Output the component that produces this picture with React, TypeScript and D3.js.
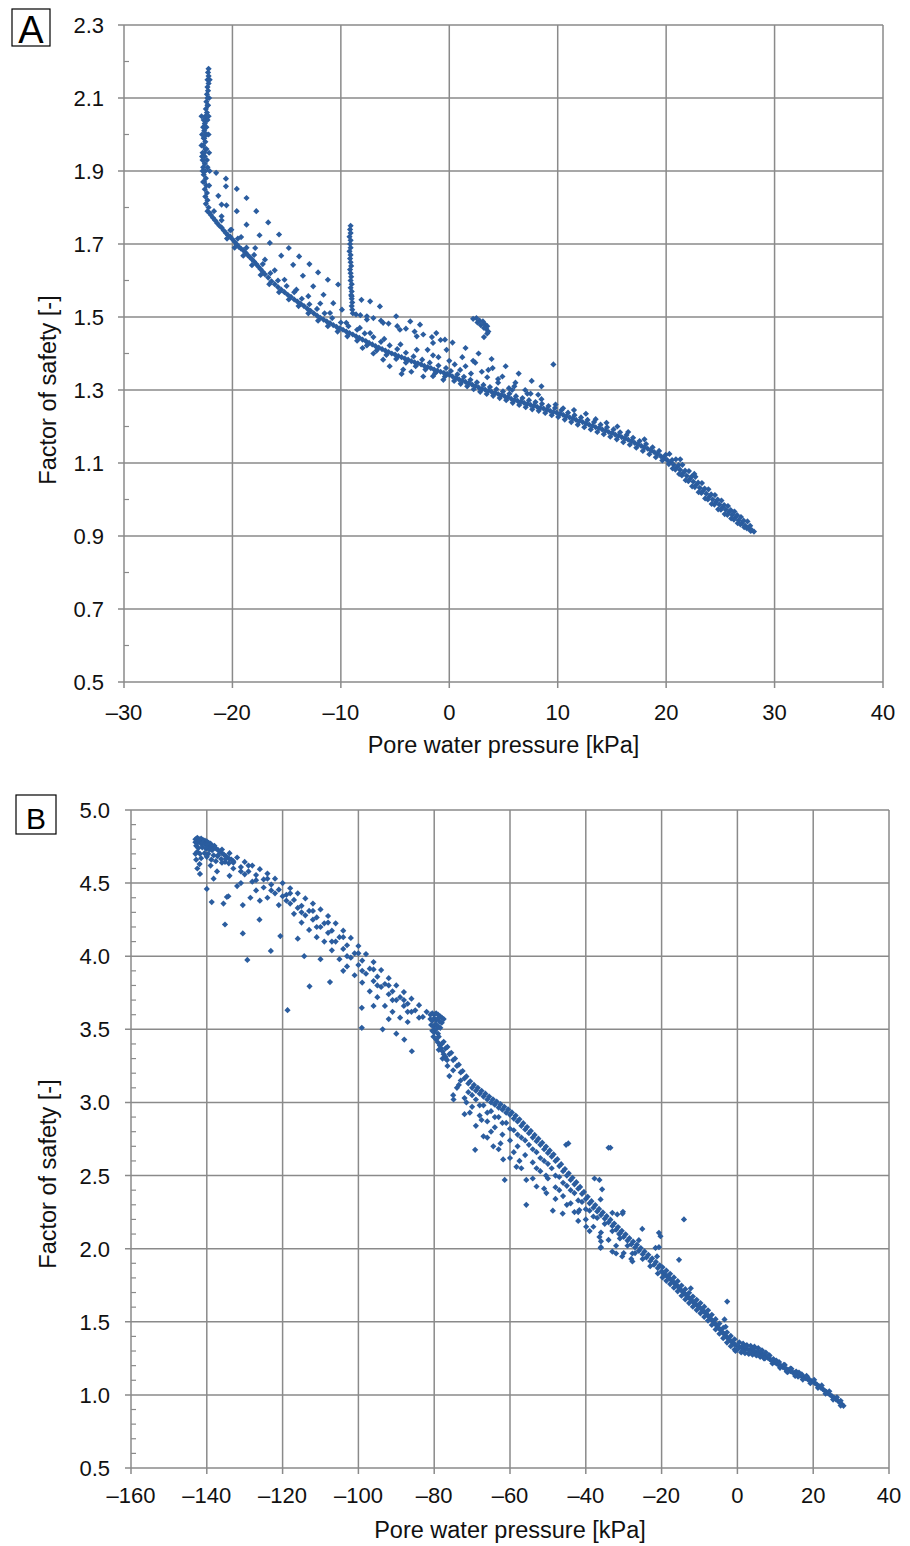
import React from "react";
import * as d3 from "d3";

type P = [number, number];

// ---------- Panel A data (pore water pressure kPa, factor of safety) ----------
const aXTicks = [-30, -20, -10, 0, 10, 20, 30, 40];
const aYTicks = [0.5, 0.7, 0.9, 1.1, 1.3, 1.5, 1.7, 1.9, 2.1, 2.3];
const aYMinor = [0.6, 0.8, 1.0, 1.2, 1.4, 1.6, 1.8, 2.0, 2.2];

const aVertical: P[] = [
  [-22.2, 2.18], [-22.25, 2.17], [-22.2, 2.16], [-22.3, 2.15], [-22.2, 2.14], [-22.3, 2.13], [-22.25, 2.12],
  [-22.35, 2.11], [-22.3, 2.1], [-22.4, 2.09], [-22.3, 2.08], [-22.45, 2.07], [-22.35, 2.06], [-22.5, 2.05],
  [-22.4, 2.04], [-22.55, 2.03], [-22.4, 2.02], [-22.6, 2.01], [-22.45, 2.0], [-22.65, 1.99], [-22.5, 1.98],
  [-22.7, 1.97], [-22.5, 1.96], [-22.75, 1.95], [-22.55, 1.94], [-22.75, 1.93], [-22.55, 1.92], [-22.35, 1.93],
  [-22.7, 1.91], [-22.5, 1.9], [-22.3, 1.91], [-22.65, 1.89], [-22.45, 1.88], [-22.6, 1.87], [-22.4, 1.86],
  [-22.55, 1.85], [-22.35, 1.84], [-22.5, 1.83], [-22.3, 1.82], [-22.45, 1.81], [-22.2, 1.8], [-22.3, 1.79],
  [-22.1, 1.785], [-22.35, 2.0], [-22.4, 1.96], [-22.3, 2.04], [-22.25, 2.08], [-22.6, 1.95], [-22.6, 1.99],
  [-22.5, 2.02],
  [-22.85, 2.05], [-22.8, 2.0], [-22.85, 1.97], [-22.8, 1.94], [-22.75, 1.9], [-22.7, 1.87], [-22.2, 2.05],
  [-22.15, 2.1], [-22.2, 2.0], [-22.15, 1.95], [-22.1, 1.9], [-22.15, 1.86], [-22.1, 2.15], [-22.65, 2.04],
  [-22.7, 2.02],
];

const aSpike: P[] = [
  [-9.1, 1.75], [-9.15, 1.74], [-9.1, 1.73], [-9.2, 1.72], [-9.1, 1.71], [-9.15, 1.7], [-9.1, 1.69],
  [-9.2, 1.68], [-9.1, 1.67], [-9.15, 1.66], [-9.1, 1.65], [-9.05, 1.64], [-9.15, 1.63], [-9.1, 1.62],
  [-9.05, 1.61], [-9.1, 1.6], [-9.0, 1.59], [-9.1, 1.58], [-9.0, 1.57], [-9.05, 1.56], [-9.0, 1.55],
  [-8.95, 1.54], [-9.0, 1.53], [-8.95, 1.52], [-8.9, 1.51],
];

const aBand: P[] = [
  [-22.0, 1.78], [-21.8, 1.772], [-21.6, 1.765], [-21.4, 1.757], [-21.2, 1.75], [-21.0, 1.745], [-20.8, 1.737],
  [-20.6, 1.73], [-20.4, 1.724], [-20.2, 1.72], [-20.0, 1.713], [-19.8, 1.706], [-19.6, 1.699], [-19.4, 1.692],
  [-19.2, 1.687], [-19.0, 1.683], [-18.8, 1.677], [-18.6, 1.67], [-18.4, 1.664], [-18.2, 1.658], [-18.0, 1.652],
  [-17.8, 1.645], [-17.6, 1.638], [-17.4, 1.631], [-17.2, 1.624], [-17.0, 1.617], [-16.7, 1.608], [-16.4, 1.598],
  [-16.1, 1.59], [-15.8, 1.582], [-15.5, 1.575], [-15.2, 1.568], [-14.9, 1.561], [-14.6, 1.555], [-14.3, 1.548],
  [-14.0, 1.542], [-13.7, 1.536], [-13.4, 1.53], [-13.1, 1.523], [-12.8, 1.517], [-12.5, 1.51], [-12.2, 1.504],
  [-11.9, 1.498], [-11.6, 1.493], [-11.3, 1.488], [-11.0, 1.483], [-10.7, 1.478], [-10.4, 1.473], [-10.1, 1.469],
  [-9.8, 1.465], [-9.5, 1.46], [-9.2, 1.456], [-8.9, 1.452], [-8.6, 1.447], [-8.3, 1.443], [-8.0, 1.438],
  [-7.7, 1.434], [-7.4, 1.429], [-7.1, 1.425], [-6.8, 1.42], [-6.5, 1.416], [-6.2, 1.412], [-5.9, 1.408],
  [-5.6, 1.404], [-5.3, 1.4], [-5.0, 1.397], [-4.7, 1.393], [-4.4, 1.39], [-4.1, 1.386], [-3.8, 1.383],
  [-3.5, 1.379], [-3.2, 1.376], [-2.9, 1.373], [-2.6, 1.37], [-2.3, 1.366], [-2.0, 1.363], [-1.7, 1.36],
  [-1.4, 1.356], [-1.1, 1.353], [-0.8, 1.35], [-0.5, 1.347], [-0.2, 1.344],
  [-21.0, 1.765], [-20.2, 1.738], [-19.5, 1.715], [-18.7, 1.69], [-18.0, 1.67], [-17.2, 1.645], [-16.5, 1.62],
  [-15.8, 1.6], [-15.0, 1.585], [-14.3, 1.568], [-13.6, 1.55], [-12.9, 1.535], [-12.2, 1.522], [-11.5, 1.51],
  [-10.8, 1.497], [-10.0, 1.485], [-9.3, 1.475], [-8.5, 1.465], [-7.8, 1.455], [-7.0, 1.445], [-6.3, 1.432],
  [-5.5, 1.422], [-4.8, 1.412], [-4.0, 1.402], [-3.3, 1.392], [-2.5, 1.383], [-1.8, 1.375], [-1.0, 1.367],
  [-0.3, 1.36],
  [-20.5, 1.715], [-19.8, 1.69], [-19.0, 1.668], [-18.2, 1.642], [-17.4, 1.615], [-16.6, 1.59], [-15.7, 1.568],
  [-14.8, 1.548], [-13.9, 1.53], [-13.0, 1.51], [-12.1, 1.49], [-11.2, 1.475], [-10.3, 1.46], [-9.4, 1.447],
  [-8.5, 1.435], [-7.6, 1.422], [-6.7, 1.408], [-5.8, 1.396], [-4.9, 1.385], [-4.0, 1.375], [-3.1, 1.365],
  [-2.2, 1.356], [-1.3, 1.346], [-0.4, 1.337],
  [-6.1, 1.383], [-5.5, 1.365], [-4.25, 1.356], [-4.4, 1.344], [-2.4, 1.337], [-0.55, 1.328], [-8.0, 1.415],
  [-7.0, 1.4], [-3.5, 1.35], [-1.5, 1.338],
];

const aTail: P[] = [
  [0, 1.342], [0.3, 1.337], [0.6, 1.333], [0.9, 1.329], [1.2, 1.326], [1.5, 1.322], [1.8, 1.318], [2.1, 1.315],
  [2.4, 1.311], [2.7, 1.307], [3.0, 1.303], [3.3, 1.301], [3.6, 1.298], [3.9, 1.295], [4.2, 1.292], [4.5, 1.289],
  [4.8, 1.286], [5.1, 1.283], [5.4, 1.28], [5.7, 1.276], [6.0, 1.273], [6.3, 1.27], [6.6, 1.268], [6.9, 1.265],
  [7.2, 1.262], [7.5, 1.259], [7.8, 1.257], [8.1, 1.254], [8.4, 1.251], [8.7, 1.249], [9.0, 1.246], [9.3, 1.243],
  [9.6, 1.24], [9.9, 1.238], [10.2, 1.235], [10.5, 1.232], [10.8, 1.228], [11.1, 1.225], [11.4, 1.222],
  [11.7, 1.218], [12.0, 1.215], [12.3, 1.212], [12.6, 1.208], [12.9, 1.205], [13.2, 1.202], [13.5, 1.198],
  [13.8, 1.195], [14.1, 1.192], [14.4, 1.189], [14.7, 1.185], [15.0, 1.182], [15.3, 1.178], [15.6, 1.175],
  [15.9, 1.171], [16.2, 1.167], [16.5, 1.164], [16.8, 1.16], [17.1, 1.155], [17.4, 1.151], [17.7, 1.147],
  [18.0, 1.143], [18.3, 1.139], [18.6, 1.134], [18.9, 1.13], [19.2, 1.125], [19.5, 1.119], [19.8, 1.114],
  [20.1, 1.108], [20.4, 1.102], [20.7, 1.095], [21.0, 1.088], [21.3, 1.081], [21.6, 1.073], [21.9, 1.065],
  [22.2, 1.057], [22.5, 1.049], [22.8, 1.041], [23.1, 1.032], [23.4, 1.024], [23.7, 1.016], [24.0, 1.008],
  [24.3, 1.0], [24.6, 0.993], [24.9, 0.986], [25.2, 0.979], [25.5, 0.972], [25.8, 0.965], [26.1, 0.958],
  [26.4, 0.951], [26.7, 0.943], [27.0, 0.935], [27.3, 0.928], [27.6, 0.922], [27.9, 0.916], [28.1, 0.912],
  [0.15, 1.352], [0.75, 1.343], [1.35, 1.336], [1.95, 1.328], [2.55, 1.321], [3.15, 1.314], [3.75, 1.308],
  [4.35, 1.302], [4.95, 1.296], [5.55, 1.29], [6.15, 1.283], [6.75, 1.278], [7.35, 1.272], [7.95, 1.267],
  [8.55, 1.262], [9.15, 1.256], [9.75, 1.251], [10.35, 1.245], [10.95, 1.238], [11.55, 1.231], [12.15, 1.225],
  [12.75, 1.218], [13.35, 1.212], [13.95, 1.205], [14.55, 1.198], [15.15, 1.192], [15.75, 1.184], [16.35, 1.177],
  [16.95, 1.169], [17.55, 1.16], [18.15, 1.152], [18.75, 1.143], [19.35, 1.133], [19.95, 1.122], [20.55, 1.108],
  [21.15, 1.094], [21.75, 1.079], [22.35, 1.063], [22.95, 1.046], [23.55, 1.03], [24.15, 1.014], [24.75, 1.0],
  [25.35, 0.985], [25.95, 0.971], [26.55, 0.957], [27.15, 0.942], [27.75, 0.928],
  [0.45, 1.325], [1.05, 1.317], [1.65, 1.31], [2.25, 1.302], [2.85, 1.295], [3.45, 1.289], [4.05, 1.284],
  [4.65, 1.278], [5.25, 1.272], [5.85, 1.265], [6.45, 1.259], [7.05, 1.253], [7.65, 1.247], [8.25, 1.243],
  [8.85, 1.237], [9.45, 1.231], [10.05, 1.226], [10.65, 1.219], [11.25, 1.212], [11.85, 1.205], [12.45, 1.198],
  [13.05, 1.192], [13.65, 1.185], [14.25, 1.179], [14.85, 1.172], [15.45, 1.165], [16.05, 1.157], [16.65, 1.15],
  [17.25, 1.142], [17.85, 1.133], [18.45, 1.124], [19.05, 1.116], [19.65, 1.107], [20.25, 1.097], [20.85, 1.082],
  [21.45, 1.066], [22.05, 1.05], [22.65, 1.034], [23.25, 1.018], [23.85, 1.0], [24.45, 0.986], [25.05, 0.972],
  [25.65, 0.958], [26.25, 0.945], [26.85, 0.932], [27.45, 0.921],
  [20.3, 1.125], [20.9, 1.11], [21.5, 1.095], [22.1, 1.078], [22.7, 1.062], [23.3, 1.045], [23.9, 1.028],
  [24.5, 1.012], [25.1, 0.997], [25.7, 0.982], [26.3, 0.967], [26.9, 0.952], [27.5, 0.94],
  [20.6, 1.085], [21.2, 1.07], [21.8, 1.053], [22.4, 1.036], [23.0, 1.02], [23.6, 1.003], [24.2, 0.988],
  [24.8, 0.973], [25.4, 0.96], [26.0, 0.948], [26.6, 0.935], [27.2, 0.924], [27.8, 0.914],
  [5.5, 1.305], [7.2, 1.29], [8.5, 1.275], [10.5, 1.25], [11.5, 1.245], [13.5, 1.22], [14.5, 1.21], [15.5, 1.2],
  [16.5, 1.185], [18, 1.165], [12.6, 1.235], [9.8, 1.26],
];

const aFan: P[] = [
  [-21.5, 1.895], [-20.6, 1.879], [-19.6, 1.851], [-18.7, 1.826], [-17.8, 1.79], [-16.7, 1.759], [-15.7, 1.726],
  [-14.8, 1.689], [-13.85, 1.666], [-12.9, 1.645], [-12.1, 1.622], [-11.2, 1.602], [-10.25, 1.589], [-9.0, 1.557],
  [-8.1, 1.547], [-7.3, 1.543], [-6.4, 1.529], [-4.9, 1.502], [-3.6, 1.488], [-2.7, 1.479], [-1.2, 1.456],
  [-0.4, 1.438], [0.3, 1.43], [1.5, 1.415], [2.7, 1.4], [3.9, 1.385], [5.2, 1.365], [6.4, 1.345], [7.6, 1.325],
  [8.5, 1.31],
  [-21.3, 1.832], [-20.55, 1.806], [-19.6, 1.79], [-18.7, 1.753], [-17.5, 1.724], [-16.55, 1.703], [-15.5, 1.668],
  [-14.4, 1.643], [-13.5, 1.613], [-12.55, 1.584], [-11.6, 1.561], [-10.7, 1.538], [-9.9, 1.52], [-7.6, 1.493],
  [-6.1, 1.484], [-4.55, 1.465], [-3.0, 1.447], [-1.5, 1.429], [-0.25, 1.41], [1.2, 1.39], [2.4, 1.375],
  [3.6, 1.355], [4.9, 1.337], [6.1, 1.32], [7.0, 1.3], [8.2, 1.287],
  [-21.0, 1.776], [-20.1, 1.739], [-19.2, 1.719], [-17.9, 1.689], [-17.0, 1.657], [-16.1, 1.628], [-15.2, 1.602],
  [-14.1, 1.575], [-13.0, 1.557], [-11.9, 1.537], [-11.0, 1.511], [-9.5, 1.484], [-8.25, 1.47], [-7.3, 1.456],
  [-6.0, 1.44], [-4.5, 1.425], [-3.0, 1.41], [-1.5, 1.395], [0, 1.38], [1.5, 1.365], [3, 1.35], [4.5, 1.33],
  [6, 1.31], [7.5, 1.29],
  [-8.6, 1.507], [-8.2, 1.505], [-7.6, 1.502], [-7.0, 1.497], [-6.3, 1.49], [-5.6, 1.482], [-4.8, 1.475],
  [-4.0, 1.468], [-3.2, 1.46], [-2.4, 1.452], [-1.6, 1.445], [-0.8, 1.437],
  [-20.6, 1.858], [-21.0, 1.808], [-21.7, 1.79],
  [1, 1.355], [2, 1.345], [3.5, 1.335], [4.5, 1.32], [5.8, 1.3], [0.5, 1.37], [-1, 1.39], [-2, 1.41],
  [2.2, 1.38], [4, 1.36],
];

const aCluster: P[] = [
  [2.2, 1.495], [2.5, 1.497], [2.8, 1.49], [3.1, 1.488], [3.3, 1.48], [3.5, 1.475], [3.4, 1.468], [3.2, 1.47],
  [2.9, 1.478], [2.6, 1.485], [3.6, 1.46], [3.5, 1.455], [3.2, 1.445],
];

const aOutliers: P[] = [[9.6, 1.37], [21.3, 1.11], [22.6, 1.07]];

// ---------- Panel B data ----------
const bXTicks = [-160, -140, -120, -100, -80, -60, -40, -20, 0, 20, 40];
const bYTicks = [0.5, 1.0, 1.5, 2.0, 2.5, 3.0, 3.5, 4.0, 4.5, 5.0];
const bYMinor = [0.6, 0.7, 0.8, 0.9, 1.1, 1.2, 1.3, 1.4, 1.6, 1.7, 1.8, 1.9, 2.1, 2.2, 2.3, 2.4, 2.6, 2.7, 2.8, 2.9,
  3.1, 3.2, 3.3, 3.4, 3.6, 3.7, 3.8, 3.9, 4.1, 4.2, 4.3, 4.4, 4.6, 4.7, 4.8, 4.9];

const bTop: P[] = [
  [-143, 4.8], [-142.5, 4.81], [-142, 4.8], [-141.5, 4.805], [-141, 4.795], [-140.5, 4.79], [-140, 4.785],
  [-139.5, 4.775], [-139, 4.77], [-143, 4.78], [-142.5, 4.775], [-142, 4.785], [-141.5, 4.77], [-141, 4.775],
  [-140.5, 4.765], [-140, 4.76], [-139.5, 4.755], [-139, 4.75], [-138.5, 4.75], [-138, 4.745], [-142.8, 4.755],
  [-142.2, 4.74], [-141.2, 4.745], [-140.2, 4.735], [-139.8, 4.74], [-139.2, 4.73], [-138.6, 4.725],
  [-137.5, 4.735], [-137, 4.725], [-136.5, 4.715], [-136, 4.705], [-143, 4.7], [-142.5, 4.715], [-141.8, 4.7],
  [-140.6, 4.705], [-139.6, 4.7], [-138.2, 4.69], [-137.2, 4.685], [-135.5, 4.695], [-135, 4.685],
  [-134.5, 4.675], [-134, 4.665], [-133.5, 4.66], [-133, 4.65], [-136.2, 4.665], [-135.2, 4.645],
  [-134.2, 4.635], [-142.8, 4.66], [-141.5, 4.67], [-140, 4.68], [-138.8, 4.66], [-137.6, 4.65],
];

const bUpperRows: P[] = [
  [-138, 4.755], [-136, 4.73], [-134, 4.705], [-132, 4.675], [-130, 4.645], [-128, 4.62], [-126, 4.595],
  [-124, 4.565], [-122, 4.53], [-120, 4.5], [-118, 4.465], [-116, 4.43], [-114, 4.395], [-112, 4.36],
  [-110, 4.32], [-108, 4.275], [-106, 4.225], [-104, 4.175], [-102, 4.125], [-100, 4.07], [-98, 4.015],
  [-96, 3.96], [-94, 3.905], [-92, 3.85], [-90, 3.8], [-88, 3.755], [-86, 3.71], [-84, 3.665], [-82, 3.62],
  [-137, 4.69], [-135, 4.665], [-133, 4.64], [-131, 4.61], [-129, 4.58], [-127, 4.555], [-125, 4.525],
  [-123, 4.49], [-121, 4.455], [-119, 4.42], [-117, 4.385], [-115, 4.345], [-113, 4.31], [-111, 4.265],
  [-109, 4.225], [-107, 4.175], [-105, 4.13], [-103, 4.075], [-101, 4.02], [-99, 3.97], [-97, 3.915],
  [-95, 3.86], [-93, 3.81], [-91, 3.76], [-89, 3.72], [-87, 3.675], [-85, 3.63], [-83, 3.585],
  [-136, 4.64], [-133, 4.6], [-130, 4.56], [-128, 4.51], [-125, 4.47], [-122, 4.43], [-120, 4.41],
  [-118, 4.36], [-116, 4.33], [-114, 4.28], [-112, 4.25], [-110, 4.2], [-108, 4.16], [-106, 4.1],
  [-104, 4.05], [-102, 3.99], [-100, 3.94], [-98, 3.88], [-96, 3.83], [-94, 3.79], [-92, 3.74], [-90, 3.7],
  [-88, 3.66], [-86, 3.62], [-84, 3.58],
  [-134, 4.55], [-131, 4.5], [-127, 4.45], [-124, 4.4], [-121, 4.35], [-117, 4.29], [-115, 4.23],
  [-113, 4.18], [-111, 4.13], [-109, 4.1], [-107, 4.04], [-105, 3.98], [-103, 3.93], [-101, 3.87],
  [-99, 3.82], [-97, 3.76], [-95, 3.72], [-93, 3.66], [-91, 3.62], [-89, 3.58], [-87, 3.55],
  [-131, 4.58], [-127, 4.52], [-123, 4.45], [-119, 4.38], [-115, 4.3], [-111, 4.2], [-107, 4.1], [-103, 4.0],
  [-99, 3.9], [-95, 3.8], [-91, 3.7], [-87, 3.62], [-129, 4.62], [-124, 4.53], [-118, 4.43], [-112, 4.31],
  [-108, 4.23], [-104, 4.13], [-100, 4.02], [-96, 3.91], [-92, 3.8], [-88, 3.7],
];

const bOutliers: P[] = [
  [-141.8, 4.563], [-140, 4.46], [-138.7, 4.37], [-135.6, 4.36], [-135.2, 4.217], [-134.3, 4.41],
  [-130.5, 4.35], [-130.5, 4.156], [-129.3, 3.975], [-126.1, 4.25], [-123.1, 4.036], [-120.6, 4.138],
  [-118.7, 3.631], [-114.3, 4.0], [-112.9, 3.794], [-107.5, 3.823], [-99.1, 3.647], [-99.1, 3.51],
  [-93.6, 3.5], [-90, 3.47], [-87.9, 3.43], [-85.9, 3.35], [-141.9, 4.63], [-138.2, 4.53], [-134.7, 4.405],
  [-142.5, 4.6], [-139, 4.62], [-137.3, 4.58], [-132, 4.48], [-128.5, 4.4], [-126, 4.38], [-116, 4.12],
  [-110, 3.98], [-104, 3.9], [-96, 3.66], [-92, 3.57],
  [-35.7, 2.406], [-36.1, 2.337], [-33, 2.245], [-31.7, 2.234], [-30.2, 2.252], [-25.1, 2.135],
  [-20.7, 2.108], [-20.3, 2.085], [-14.1, 2.2], [-15.4, 1.924], [-12.3, 1.729], [-2.7, 1.638],
  [-3.4, 1.516], [-3.1, 1.466], [-36.1, 2.005], [-30.4, 1.947], [-27.7, 1.913], [-21.6, 2.005],
  [-21.2, 1.947], [-33.5, 2.69], [-44.6, 2.72],
];

const bClump: P[] = [
  [-81, 3.6], [-80.5, 3.61], [-80, 3.6], [-79.5, 3.61], [-79, 3.6], [-78.5, 3.59], [-78, 3.58], [-77.5, 3.57],
  [-81, 3.57], [-80.5, 3.56], [-80, 3.575], [-79.5, 3.565], [-79, 3.57], [-78.5, 3.55], [-78, 3.545],
  [-80.8, 3.53], [-80.2, 3.52], [-79.6, 3.535], [-79, 3.52], [-78.4, 3.51], [-80.5, 3.49], [-80, 3.48],
  [-79.5, 3.5], [-79, 3.47], [-78.8, 3.45], [-80.2, 3.45], [-79.5, 3.43], [-79, 3.41], [-78.5, 3.39],
  [-78.2, 3.37], [-77.8, 3.35], [-78.8, 3.36], [-77.5, 3.33], [-77, 3.31], [-76.6, 3.29], [-77.8, 3.3],
];

const bMainLine: P[] = [
  [-78, 3.4], [-77, 3.37], [-76, 3.33], [-75, 3.29], [-74, 3.25], [-73, 3.205], [-72, 3.165], [-71, 3.13],
  [-70, 3.1], [-69, 3.08], [-68, 3.06], [-67, 3.04], [-66, 3.02], [-65, 3.0], [-64, 2.985], [-63, 2.965],
  [-62, 2.95], [-61, 2.93], [-60, 2.915], [-59, 2.89], [-58, 2.87], [-57, 2.84], [-56, 2.815], [-55, 2.79],
  [-54, 2.76], [-53, 2.735], [-52, 2.71], [-51, 2.68], [-50, 2.655], [-49, 2.63], [-48, 2.6], [-47, 2.565],
  [-46, 2.53], [-45, 2.5], [-44, 2.47], [-43, 2.44], [-42, 2.41], [-41, 2.375], [-40, 2.34], [-39, 2.31],
  [-38, 2.28], [-37, 2.255], [-36, 2.23], [-35, 2.205], [-34, 2.18], [-33, 2.155], [-32, 2.13], [-31, 2.105],
  [-30, 2.08], [-29, 2.055], [-28, 2.03], [-27, 2.008], [-26, 1.985], [-25, 1.962], [-24, 1.94], [-23, 1.915],
  [-22, 1.89], [-21, 1.867],
  [-77.5, 3.415], [-76.5, 3.38], [-75.5, 3.34], [-74.5, 3.3], [-73.5, 3.258], [-72.5, 3.215], [-71.5, 3.178],
  [-70.5, 3.145], [-69.5, 3.12], [-68.5, 3.1], [-67.5, 3.08], [-66.5, 3.06], [-65.5, 3.04], [-64.5, 3.022],
  [-63.5, 3.005], [-62.5, 2.988], [-61.5, 2.97], [-60.5, 2.952], [-59.5, 2.932], [-58.5, 2.91], [-57.5, 2.885],
  [-56.5, 2.858], [-55.5, 2.832], [-54.5, 2.805], [-53.5, 2.778], [-52.5, 2.752], [-51.5, 2.725], [-50.5, 2.698],
  [-49.5, 2.672], [-48.5, 2.645], [-47.5, 2.612], [-46.5, 2.578], [-45.5, 2.545], [-44.5, 2.515], [-43.5, 2.485],
  [-42.5, 2.455], [-41.5, 2.422], [-40.5, 2.388], [-39.5, 2.355], [-38.5, 2.325], [-37.5, 2.298], [-36.5, 2.272],
  [-35.5, 2.248], [-34.5, 2.222], [-33.5, 2.198], [-32.5, 2.172], [-31.5, 2.148], [-30.5, 2.122], [-29.5, 2.098],
  [-28.5, 2.072], [-27.5, 2.049], [-26.5, 2.027], [-25.5, 2.004], [-24.5, 1.981], [-23.5, 1.958], [-22.5, 1.933],
  [-21.5, 1.909], [-20.5, 1.886],
];

const bScatter: P[] = [
  [-77, 3.3], [-75, 3.22], [-73, 3.15], [-71, 3.07], [-69, 3.02], [-67, 2.98], [-65, 2.94], [-63, 2.9],
  [-61, 2.86], [-59, 2.81], [-57, 2.76], [-55, 2.71], [-53, 2.66], [-51, 2.6], [-49, 2.55], [-47, 2.49],
  [-45, 2.43], [-43, 2.38], [-41, 2.32], [-39, 2.26], [-37, 2.21], [-35, 2.17], [-33, 2.12], [-31, 2.07],
  [-29, 2.02], [-27, 1.97], [-25, 1.93], [-23, 1.88], [-21, 1.83],
  [-76, 3.18], [-74, 3.1], [-72, 3.03], [-70, 2.97], [-68, 2.91], [-66, 2.87], [-64, 2.83], [-62, 2.78],
  [-60, 2.74], [-58, 2.7], [-56, 2.64], [-54, 2.59], [-52, 2.53], [-50, 2.48], [-48, 2.42], [-46, 2.36],
  [-44, 2.31], [-42, 2.25], [-40, 2.2], [-38, 2.15], [-36, 2.11], [-34, 2.06], [-32, 2.02], [-30, 1.97],
  [-28, 1.93],
  [-75, 3.05], [-72, 2.92], [-69, 2.84], [-66, 2.76], [-63, 2.68], [-60, 2.62], [-57, 2.55], [-54, 2.48],
  [-51, 2.41], [-48, 2.34], [-45, 2.3], [-42, 2.19], [-39, 2.12], [-36, 2.05], [-33, 1.98],
  [-74.9, 3.02], [-70.6, 2.93], [-69.2, 2.676], [-67, 2.768], [-64.4, 2.7], [-61.8, 2.61], [-61.4, 2.47],
  [-58.3, 2.56], [-55.7, 2.47], [-55.7, 2.3], [-53, 2.425], [-50.4, 2.38], [-48.7, 2.26], [-46.1, 2.24],
  [-45.2, 2.71], [-41.7, 2.264], [-39.9, 2.15], [-36.4, 2.08], [-36, 2.01], [-34, 2.69], [-32, 1.967],
  [-27.7, 1.967], [-26, 2.058], [-20.7, 2.01], [-36.4, 2.47], [-37.7, 2.48], [-30.3, 2.24], [-31.2, 2.1],
  [-76.5, 3.25], [-73.5, 3.12], [-71.5, 3.0], [-70, 3.05], [-68, 2.98], [-66, 2.93], [-64, 2.9], [-62, 2.86],
  [-60, 2.82], [-58, 2.78], [-56, 2.74], [-54, 2.68], [-52, 2.62], [-50, 2.58], [-48, 2.5], [-46, 2.45],
  [-44, 2.4], [-42, 2.33], [-40, 2.27], [-38, 2.22], [-65, 2.8], [-59, 2.66], [-53, 2.55], [-47, 2.4],
  [-43, 2.25], [-67.5, 2.88], [-62.5, 2.72], [-57.5, 2.6], [-50.5, 2.5],
];

const bLower: P[] = [
  [-20, 1.845], [-19.5, 1.832], [-19, 1.82], [-18.5, 1.81], [-18, 1.8], [-17.5, 1.787], [-17, 1.775],
  [-16.5, 1.762], [-16, 1.75], [-15.5, 1.735], [-15, 1.72], [-14.5, 1.707], [-14, 1.695], [-13.5, 1.682],
  [-13, 1.67], [-12.5, 1.657], [-12, 1.645], [-11.5, 1.632], [-11, 1.62], [-10.5, 1.61], [-10, 1.6],
  [-9.5, 1.587], [-9, 1.575], [-8.5, 1.562], [-8, 1.55], [-7.5, 1.535], [-7, 1.52], [-6.5, 1.505], [-6, 1.49],
  [-5.5, 1.475], [-5, 1.46], [-4.5, 1.445], [-4, 1.43], [-3.5, 1.415], [-3, 1.4], [-2.5, 1.387], [-2, 1.375],
  [-1.5, 1.362], [-1, 1.35], [-0.5, 1.342], [0, 1.335],
  [-19.75, 1.873], [-18.75, 1.85], [-17.75, 1.828], [-16.75, 1.803], [-15.75, 1.778], [-14.75, 1.748],
  [-13.75, 1.723], [-12.75, 1.698], [-11.75, 1.673], [-10.75, 1.65], [-9.75, 1.628], [-8.75, 1.603],
  [-7.75, 1.578], [-6.75, 1.548], [-5.75, 1.518], [-4.75, 1.488], [-3.75, 1.458], [-2.75, 1.428],
  [-1.75, 1.403], [-0.75, 1.38],
  [-19.75, 1.803], [-18.75, 1.78], [-17.75, 1.758], [-16.75, 1.733], [-15.75, 1.708], [-14.75, 1.678],
  [-13.75, 1.653], [-12.75, 1.628], [-11.75, 1.603], [-10.75, 1.58], [-9.75, 1.558], [-8.75, 1.533],
  [-7.75, 1.508], [-6.75, 1.478], [-5.75, 1.448], [-4.75, 1.418], [-3.75, 1.388], [-2.75, 1.358],
  [-1.75, 1.333], [-0.75, 1.31],
  [0.5, 1.33], [1, 1.325], [1.5, 1.32], [2, 1.316], [2.5, 1.312], [3, 1.308], [3.5, 1.304], [4, 1.3],
  [4.5, 1.297], [5, 1.294], [5.5, 1.29], [6, 1.285], [6.5, 1.278], [7, 1.27], [7.5, 1.262], [8, 1.254],
  [8.5, 1.245], [9, 1.236], [9.5, 1.228], [10, 1.22], [10.5, 1.212], [11, 1.205], [11.5, 1.198], [12, 1.19],
  [12.5, 1.183], [13, 1.176], [13.5, 1.169], [14, 1.162], [14.5, 1.156], [15, 1.15], [15.5, 1.144],
  [16, 1.138], [16.5, 1.132], [17, 1.126], [17.5, 1.12], [18, 1.114], [18.5, 1.108], [19, 1.102],
  [19.5, 1.095], [20, 1.088], [20.5, 1.08], [21, 1.07], [21.5, 1.06], [22, 1.05], [22.5, 1.04], [23, 1.03],
  [23.5, 1.02], [24, 1.01], [24.5, 1.0], [25, 0.99], [25.5, 0.98], [26, 0.97], [26.5, 0.96], [27, 0.948],
  [27.5, 0.937], [28, 0.925],
  [0.5, 1.36], [1.5, 1.35], [2.5, 1.34], [3.5, 1.335], [4.5, 1.33], [5.5, 1.32], [6.5, 1.305], [7.5, 1.29],
  [8.5, 1.27], [1, 1.29], [2, 1.285], [3, 1.28], [4, 1.275], [5, 1.27], [6, 1.26], [7, 1.25], [-0.5, 1.3],
  [0, 1.31], [9.5, 1.245], [11, 1.225], [12.5, 1.205], [14, 1.18], [15.5, 1.16], [17, 1.14], [18.5, 1.12],
  [13, 1.16], [16, 1.125],
  [2.25, 1.335], [4.25, 1.318], [6.25, 1.3], [8.25, 1.27], [10.25, 1.235], [12.25, 1.205], [14.25, 1.178],
  [16.25, 1.153], [18.25, 1.13], [20.25, 1.103], [22.25, 1.065], [24.25, 1.025], [26.25, 0.983], [27.25, 0.96],
  [1.25, 1.3], [3.25, 1.29], [5.25, 1.275], [7.25, 1.25], [9.25, 1.215], [11.25, 1.185], [13.25, 1.155],
  [15.25, 1.13], [17.25, 1.105], [19.25, 1.08], [21.25, 1.048], [23.25, 1.008], [25.25, 0.968], [27.25, 0.927],
];

const COLOR = "#2b5d9f";
const GRID = "#8a8a8a";
const FONT = "'Liberation Sans', Arial, Helvetica, sans-serif";
const MARKER = "M0,-3.1L3.1,0L0,3.1L-3.1,0Z";

function fmtTick(v: number, digits: number) {
  const s = Math.abs(v).toFixed(digits);
  return v < 0 ? "\u2013" + s : s;
}

type PanelProps = {
  letter: string;
  letterBox: [number, number, number, number];
  letterSize: number;
  letterBase: number;
  xDomain: [number, number];
  yDomain: [number, number];
  left: number; right: number; top: number; bottom: number;
  xTicks: number[]; yTicks: number[]; yMinor: number[];
  yDigits: number; yLabelRight: number; xLabelBase: number;
  xTitleBase: number; yTitleCenter: number;
  series: P[][];
};

function Panel(p: PanelProps) {
  const x = d3.scaleLinear().domain(p.xDomain).range([p.left, p.right]);
  const y = d3.scaleLinear().domain(p.yDomain).range([p.bottom, p.top]);
  const pts = p.series.flat();
  const [bx, by, bw, bh] = p.letterBox;
  return (
    <g>
      <rect x={bx} y={by} width={bw} height={bh} fill="none" stroke="#000" strokeWidth={1.2} />
      <text x={bx + bw / 2} y={p.letterBase} textAnchor="middle" fontSize={p.letterSize} fontFamily={FONT}>{p.letter}</text>
      {p.xTicks.map((t) => (
        <line key={"gx" + t} x1={x(t)} x2={x(t)} y1={p.top} y2={p.bottom + 6} stroke={GRID} strokeWidth={1.5} />
      ))}
      {p.yTicks.map((t) => (
        <line key={"gy" + t} x1={p.left - 6} x2={p.right} y1={y(t)} y2={y(t)} stroke={GRID} strokeWidth={1.5} />
      ))}
      {p.yMinor.map((t) => (
        <line key={"my" + t} x1={p.left} x2={p.left + 5} y1={y(t)} y2={y(t)} stroke={GRID} strokeWidth={1.2} />
      ))}
      {p.yTicks.map((t) => (
        <text key={"ly" + t} x={p.yLabelRight} y={y(t) + 8} textAnchor="end" fontSize={22} fontFamily={FONT} fill="#111">
          {fmtTick(t, p.yDigits)}
        </text>
      ))}
      {p.xTicks.map((t) => (
        <text key={"lx" + t} x={x(t)} y={p.xLabelBase} textAnchor="middle" fontSize={22} fontFamily={FONT} fill="#111">
          {fmtTick(t, 0)}
        </text>
      ))}
      <text x={(p.left + p.right) / 2} y={p.xTitleBase} textAnchor="middle" fontSize={23.5} fontFamily={FONT} fill="#111">
        Pore water pressure [kPa]
      </text>
      <text transform={`translate(56,${p.yTitleCenter}) rotate(-90)`} textAnchor="middle" fontSize={23.5} fontFamily={FONT} fill="#111">
        Factor of safety [-]
      </text>
      <g fill={COLOR}>
        {pts.map((d, i) => (
          <path key={i} d={MARKER} transform={`translate(${x(d[0])},${y(d[1])})`} />
        ))}
      </g>
    </g>
  );
}

export default function App() {
  return (
    <svg width={910} height={1546} style={{ position: "absolute", left: 0, top: 0, background: "#fff" }}>
      <rect width={910} height={1546} fill="#fff" />
      <Panel
        letter="A" letterBox={[12, 9, 38, 37]} letterSize={38} letterBase={42.5}
        xDomain={[-30, 40]} yDomain={[0.5, 2.3]}
        left={124} right={883} top={25} bottom={682}
        xTicks={aXTicks} yTicks={aYTicks} yMinor={aYMinor}
        yDigits={1} yLabelRight={104} xLabelBase={720} xTitleBase={753} yTitleCenter={390}
        series={[aVertical, aSpike, aBand, aTail, aFan, aCluster, aOutliers]}
      />
      <Panel
        letter="B" letterBox={[16, 795, 40, 39]} letterSize={30} letterBase={829}
        xDomain={[-160, 40]} yDomain={[0.5, 5.0]}
        left={131} right={889} top={810} bottom={1468}
        xTicks={bXTicks} yTicks={bYTicks} yMinor={bYMinor}
        yDigits={1} yLabelRight={110} xLabelBase={1503} xTitleBase={1538} yTitleCenter={1174}
        series={[bTop, bUpperRows, bOutliers, bClump, bMainLine, bScatter, bLower]}
      />
    </svg>
  );
}
